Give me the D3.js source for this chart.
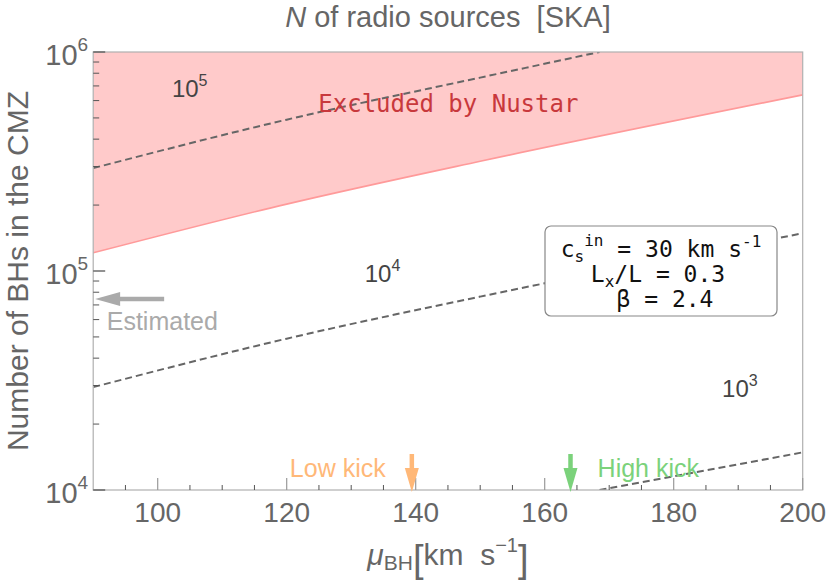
<!DOCTYPE html>
<html>
<head>
<meta charset="utf-8">
<script src="https://cdn.jsdelivr.net/npm/d3@7"></script>
<style>
html,body{margin:0;padding:0;background:#fff;}
svg{display:block;}
text{font-family:"Liberation Sans",Arial,sans-serif;}
.mono{font-family:"DejaVu Sans Mono",monospace;}
</style>
</head>
<body>
<svg id="chart" width="830" height="581"></svg>
<script>
// ---------- data ----------
const xDomain = [90, 200];
const yDomain = [1e4, 1e6];
const xMajorTicks = [100, 120, 140, 160, 180, 200];
const xMinorTicks = [95, 105, 110, 115, 125, 130, 135, 145, 150, 155, 165, 170, 175, 185, 190, 195];
const yMajorTicks = [1e4, 1e5, 1e6];
const yTickExp = ["4", "5", "6"];
const yMinorTicks = [2e4, 3e4, 4e4, 5e4, 6e4, 7e4, 8e4, 9e4, 2e5, 3e5, 4e5, 5e5, 6e5, 7e5, 8e5, 9e5];

// Nustar exclusion boundary
const nustarMu = [90, 120, 150, 200];
const nustarN  = [1.21e5, 2.02e5, 3.17e5, 6.37e5];

// contours of number of radio sources
const c5Mu = [90, 120, 150, 168.5];
const c5N  = [2.95e5, 4.91e5, 7.64e5, 1.0e6];
const c4Mu = [90, 120, 150, 200];
const c4N  = [2.95e4, 4.91e4, 7.64e4, 1.486e5];
const c3Mu = [168.5, 200];
const c3N  = [1.0e4, 1.486e4];

const contourLabels = [
  {base: "10", exp: "5", mu: 102.2, n: 6.24e5},
  {base: "10", exp: "4", mu: 132.1, n: 8.87e4},
  {base: "10", exp: "3", mu: 187.5, n: 2.66e4}
];

const lowKickMu = 139.4, highKickMu = 164.0;
const estimatedN = 7.45e4;

// ---------- layout ----------
const L = 93.2, R = 802.7, T = 52, B = 490;
const svg = d3.select("#chart");
const x = d3.scaleLinear().domain(xDomain).range([L, R]);
const y = d3.scaleLog().domain(yDomain).range([B, T]);

svg.append("defs").append("clipPath").attr("id", "clip")
  .append("rect").attr("x", L).attr("y", T).attr("width", R - L).attr("height", B - T);

const plot = svg.append("g").attr("clip-path", "url(#clip)");

// excluded region
const nustar = nustarMu.map((m, i) => [m, nustarN[i]]);
plot.append("path").datum(nustar)
  .attr("fill", "#ffcaca")
  .attr("d", d3.area().x(d => x(d[0])).y0(y(1e6)).y1(d => y(d[1])).curve(d3.curveMonotoneX));
plot.append("path").datum(nustar)
  .attr("fill", "none").attr("stroke", "#ff9a9a").attr("stroke-width", 1.6)
  .attr("d", d3.line().x(d => x(d[0])).y(d => y(d[1])).curve(d3.curveMonotoneX));

// contours
const line = d3.line().x(d => x(d[0])).y(d => y(d[1])).curve(d3.curveMonotoneX);
[[c5Mu, c5N], [c4Mu, c4N], [c3Mu, c3N]].forEach(([ms, ns]) => {
  plot.append("path").datum(ms.map((m, i) => [m, ns[i]]))
    .attr("fill", "none").attr("stroke", "#666").attr("stroke-width", 2)
    .attr("stroke-dasharray", "7,4")
    .attr("d", line);
});

// frame
svg.append("rect").attr("x", L).attr("y", T).attr("width", R - L).attr("height", B - T)
  .attr("fill", "none").attr("stroke", "#b0b0b0").attr("stroke-width", 1.2);

// ticks
const tickCol = "#555";
const gx = svg.append("g");
gx.selectAll(".xmaj").data(xMajorTicks).enter().append("line")
  .attr("x1", d => x(d)).attr("x2", d => x(d)).attr("y1", B).attr("y2", B - 12)
  .attr("stroke", "#999").attr("stroke-width", 1.2);
gx.selectAll(".xmin").data(xMinorTicks).enter().append("line")
  .attr("x1", d => x(d)).attr("x2", d => x(d)).attr("y1", B).attr("y2", B - 5)
  .attr("stroke", tickCol).attr("stroke-width", 1);
gx.selectAll(".xlab").data(xMajorTicks).enter().append("text")
  .attr("x", d => x(d)).attr("y", B + 32).attr("text-anchor", "middle")
  .attr("font-size", 28).attr("fill", "#666").text(d => d);

const gy = svg.append("g");
gy.selectAll(".ymaj").data(yMajorTicks).enter().append("line")
  .attr("x1", L).attr("x2", L + 12).attr("y1", d => y(d)).attr("y2", d => y(d))
  .attr("stroke", tickCol).attr("stroke-width", 1.3);
gy.selectAll(".ymin").data(yMinorTicks).enter().append("line")
  .attr("x1", L).attr("x2", L + 6).attr("y1", d => y(d)).attr("y2", d => y(d))
  .attr("stroke", tickCol).attr("stroke-width", 1);
const ylab = gy.selectAll(".ylab").data(yMajorTicks).enter().append("text")
  .attr("x", L - 5).attr("y", d => y(d) + 13).attr("text-anchor", "end")
  .attr("fill", "#666");
ylab.append("tspan").attr("font-size", 29).text("10");
ylab.append("tspan").attr("font-size", 19).attr("dy", -14).text((d, i) => yTickExp[i]);

// title
const title = svg.append("text").attr("x", (L + R) / 2).attr("y", 27)
  .attr("text-anchor", "middle").attr("font-size", 29).attr("fill", "#666");
title.append("tspan").attr("font-style", "italic").text("N");
title.append("tspan").text(" of radio sources\u00a0\u00a0[SKA]");

// y axis label
svg.append("text").attr("transform", `translate(28,${(T + B) / 2}) rotate(-90)`)
  .attr("text-anchor", "middle").attr("font-size", 30).attr("fill", "#666")
  .text("Number of BHs in the CMZ");

// x axis label
const xl = svg.append("text").attr("x", (L + R) / 2).attr("y", 565)
  .attr("text-anchor", "middle").attr("font-size", 30).attr("fill", "#666");
xl.append("tspan").attr("font-style", "italic").text("μ");
xl.append("tspan").attr("font-size", 21).attr("dy", 5).text("BH");
xl.append("tspan").attr("font-size", 38).attr("dy", 2).text("[");
xl.append("tspan").attr("dy", -7).text("km\u00a0\u00a0s");
xl.append("tspan").attr("font-size", 20).attr("dy", -13).text("−1");
xl.append("tspan").attr("font-size", 38).attr("dy", 20).text("]");

// contour labels
contourLabels.forEach(c => {
  const t = svg.append("text").attr("x", x(c.mu)).attr("y", y(c.n)).attr("fill", "#444");
  t.append("tspan").attr("font-size", 24).text(c.base);
  t.append("tspan").attr("font-size", 16).attr("dy", -11).text(c.exp);
});

// excluded label
svg.append("text").attr("class", "mono").attr("x", x(124.9)).attr("y", y(5.32e5))
  .attr("font-size", 24).attr("fill", "#c8383c").text("Excluded by Nustar");

// estimated arrow
const ey = y(estimatedN);
const ex0 = x(101), ex1 = x(90.3);
svg.append("line").attr("x1", ex0).attr("x2", ex1 + 20).attr("y1", ey).attr("y2", ey)
  .attr("stroke", "#aaa").attr("stroke-width", 4.5);
svg.append("path")
  .attr("d", `M${ex1},${ey} L${ex1 + 25},${ey - 7} L${ex1 + 25},${ey + 7} Z`)
  .attr("fill", "#aaa");
svg.append("text").attr("x", x(92.1)).attr("y", y(5.38e4)).attr("font-size", 25)
  .attr("fill", "#aaa").text("Estimated");

// kick arrows
function downArrow(mu, col) {
  const cx = x(mu), tip = y(1e4) + 2, top = y(1.46e4);
  svg.append("line").attr("x1", cx).attr("x2", cx).attr("y1", top).attr("y2", tip - 18)
    .attr("stroke", col).attr("stroke-width", 4.5);
  svg.append("path")
    .attr("d", `M${cx},${tip} L${cx - 7},${tip - 24} L${cx + 7},${tip - 24} Z`)
    .attr("fill", col);
}
downArrow(lowKickMu, "#ffb878");
downArrow(highKickMu, "#7bd27b");
svg.append("text").attr("x", x(135.35)).attr("y", y(1.15e4)).attr("text-anchor", "end")
  .attr("font-size", 25).attr("fill", "#ffb878").text("Low kick");
svg.append("text").attr("x", x(168.2)).attr("y", y(1.15e4))
  .attr("font-size", 25).attr("fill", "#7bd27b").text("High kick");

// parameter box
const bx = 545, by = 226, bw = 232, bh = 90;
svg.append("rect").attr("x", bx).attr("y", by).attr("width", bw).attr("height", bh)
  .attr("rx", 6).attr("fill", "#fff").attr("stroke", "#888").attr("stroke-width", 1.2);
const cxBox = bx + bw / 2;
const l1 = svg.append("text").attr("class", "mono").attr("x", cxBox).attr("y", 257)
  .attr("text-anchor", "middle").attr("font-size", 23).attr("fill", "#111");
l1.append("tspan").text("c");
l1.append("tspan").attr("font-size", 16).attr("dy", 5).text("s");
l1.append("tspan").attr("font-size", 16).attr("dy", -16).text("in");
l1.append("tspan").attr("dy", 11).text(" = 30");
l1.append("tspan").text("\u2009km s");
l1.append("tspan").attr("font-size", 16).attr("dy", -10).text("-1");
const l2 = svg.append("text").attr("class", "mono").attr("x", cxBox - 3).attr("y", 282)
  .attr("text-anchor", "middle").attr("font-size", 23).attr("fill", "#111");
l2.append("tspan").text("L");
l2.append("tspan").attr("font-size", 16).attr("dy", 5).text("x");
l2.append("tspan").attr("dy", -5).text("/L = 0.3");
svg.append("text").attr("class", "mono").attr("x", cxBox + 4).attr("y", 307)
  .attr("text-anchor", "middle").attr("font-size", 23).attr("fill", "#111")
  .text("β = 2.4");
</script>
</body>
</html>
